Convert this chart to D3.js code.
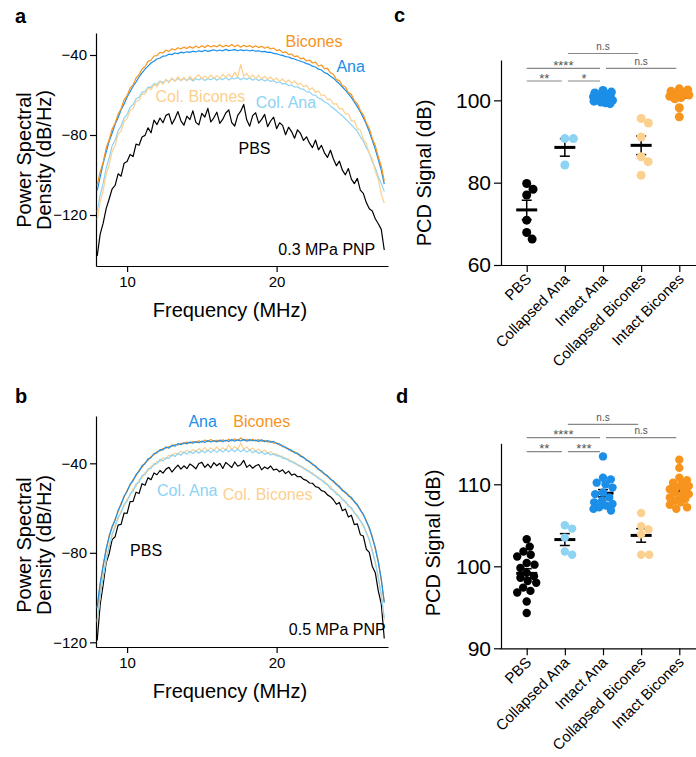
<!DOCTYPE html>
<meta charset="utf-8" />
<script src="https://d3js.org/d3.v7.min.js"></script>
<style>
  body { margin: 0; background: #fff; }
  svg text { font-family: "Liberation Sans", Arial, sans-serif; }
</style>
<svg width="696" height="757"></svg>
<script>
  // ---- spectra (panels a, b) ----
  var freqMHz = [
    8.0, 8.2, 8.4, 8.6, 8.8, 9.0, 9.2, 9.4, 9.6, 9.8,
    10.0, 10.2, 10.4, 10.6, 10.8, 11.0, 11.2, 11.4, 11.6, 11.8,
    12.0, 12.2, 12.4, 12.6, 12.8, 13.0, 13.2, 13.4, 13.6, 13.8,
    14.0, 14.2, 14.4, 14.6, 14.8, 15.0, 15.2, 15.4, 15.6, 15.8,
    16.0, 16.2, 16.4, 16.6, 16.8, 17.0, 17.2, 17.4, 17.6, 17.8,
    18.0, 18.2, 18.4, 18.6, 18.8, 19.0, 19.2, 19.4, 19.6, 19.8,
    20.0, 20.2, 20.4, 20.6, 20.8, 21.0, 21.2, 21.4, 21.6, 21.8,
    22.0, 22.2, 22.4, 22.6, 22.8, 23.0, 23.2, 23.4, 23.6, 23.8,
    24.0, 24.2, 24.4, 24.6, 24.8, 25.0, 25.2, 25.4, 25.6, 25.8,
    26.0, 26.2, 26.4, 26.6, 26.8, 27.0, 27.2
  ];

  // 0.3 MPa PNP
  var bicones03 = [
    -105.0, -98.4, -93.6, -86.5, -82.4, -77.0, -74.1, -69.5, -66.9, -62.4,
    -60.3, -56.6, -54.9, -51.5, -49.8, -47.0, -45.9, -43.2, -42.6, -40.5,
    -40.3, -38.7, -39.0, -37.6, -38.2, -36.9, -37.5, -36.4, -37.0, -36.0,
    -36.8, -35.8, -36.6, -35.5, -36.4, -35.4, -36.2, -35.1, -36.0, -35.3,
    -35.9, -34.9, -36.0, -35.2, -35.7, -34.8, -35.9, -35.0, -36.1, -35.1,
    -35.8, -35.3, -36.2, -35.4, -36.3, -35.6, -36.6, -35.9, -37.0, -36.5,
    -37.8, -37.3, -38.8, -38.4, -39.7, -39.5, -40.8, -40.4, -41.9, -41.6,
    -43.0, -42.5, -44.0, -43.6, -45.5, -45.0, -46.8, -46.7, -48.9, -49.6,
    -52.3, -52.8, -55.4, -56.0, -58.9, -59.7, -62.9, -64.3, -67.8, -69.9,
    -73.9, -76.8, -81.7, -85.3, -90.9, -95.6, -103.0
  ];
  var ana03 = [
    -107.8, -100.9, -94.2, -88.6, -83.1, -79.0, -74.6, -71.3, -67.4, -64.5,
    -61.0, -58.4, -55.6, -53.5, -51.0, -48.9, -47.1, -45.6, -44.0, -43.1,
    -42.0, -41.5, -40.6, -40.4, -39.6, -39.8, -39.0, -39.3, -38.6, -38.9,
    -38.4, -38.7, -38.1, -38.5, -37.9, -38.3, -37.6, -38.2, -37.8, -37.4,
    -38.0, -37.5, -37.9, -37.2, -37.8, -37.6, -37.3, -37.9, -37.4, -37.8,
    -37.5, -38.0, -37.6, -38.1, -37.9, -38.4, -38.2, -38.7, -38.6, -39.2,
    -39.4, -39.9, -40.2, -40.8, -41.0, -41.7, -42.0, -42.6, -43.1, -43.6,
    -44.3, -44.7, -45.6, -46.0, -47.1, -47.5, -48.8, -49.4, -50.6, -51.6,
    -53.1, -54.4, -56.0, -57.6, -59.4, -61.2, -63.6, -65.8, -68.5, -71.4,
    -74.6, -78.4, -82.6, -87.2, -92.3, -97.6, -104.5
  ];
  var colBicones03 = [
    -122.3, -113.4, -107.8, -99.6, -95.1, -88.2, -85.3, -79.7, -77.9, -73.1,
    -71.8, -67.6, -66.9, -63.0, -62.8, -59.4, -59.6, -56.5, -57.4, -54.6,
    -55.9, -53.2, -54.7, -52.1, -53.9, -51.4, -53.2, -50.9, -52.8, -51.2,
    -52.9, -50.6, -52.4, -51.0, -49.8, -52.1, -50.4, -51.9, -49.9, -51.6,
    -50.3, -51.8, -49.6, -51.2, -49.4, -51.3, -48.7, -50.9, -44.8, -50.6,
    -49.2, -51.4, -49.9, -51.8, -50.1, -52.0, -50.6, -52.3, -51.0, -52.7,
    -51.5, -53.3, -51.9, -53.6, -52.5, -54.2, -53.0, -54.8, -54.0, -55.9,
    -55.1, -57.4, -56.4, -58.7, -58.0, -60.4, -60.0, -62.3, -62.1, -64.6,
    -64.3, -66.9, -66.8, -69.5, -69.4, -72.9, -72.9, -76.8, -77.5, -82.3,
    -84.2, -89.3, -92.0, -98.1, -102.2, -109.6, -114.0
  ];
  var colAna03 = [
    -118.4, -110.0, -104.1, -96.6, -91.5, -85.4, -82.6, -77.8, -75.6, -71.5,
    -69.8, -66.2, -64.9, -61.9, -61.1, -58.6, -58.3, -56.1, -56.2, -54.3,
    -54.7, -53.0, -53.8, -52.6, -53.3, -51.9, -53.0, -51.7, -52.9, -51.8,
    -52.7, -51.6, -53.0, -51.9, -52.5, -51.5, -52.8, -51.8, -52.4, -51.4,
    -52.6, -51.7, -52.3, -51.3, -52.5, -51.6, -52.0, -51.2, -52.4, -51.5,
    -52.2, -51.4, -52.6, -51.7, -52.8, -52.0, -53.0, -52.3, -53.2, -52.8,
    -53.9, -53.4, -54.6, -54.2, -55.3, -55.0, -56.0, -55.9, -56.9, -57.1,
    -58.3, -58.4, -59.9, -60.1, -61.6, -62.0, -63.5, -64.1, -65.6, -66.6,
    -67.9, -69.2, -70.4, -72.0, -73.3, -74.9, -76.6, -78.1, -80.9, -83.0,
    -86.4, -89.0, -93.4, -96.5, -100.9, -104.2, -108.3
  ];
  var pbs03 = [
    -140.5, -129.6, -124.1, -116.8, -112.0, -106.9, -105.2, -99.4, -100.6, -94.1,
    -93.2, -89.7, -90.8, -84.5, -85.1, -81.0, -80.2, -76.4, -78.9, -72.6,
    -74.8, -71.5, -73.9, -70.2, -69.4, -74.6, -71.8, -68.3, -72.9, -75.1,
    -70.6, -72.3, -67.9, -73.7, -74.9, -69.2, -71.0, -66.7, -73.5, -71.4,
    -68.6, -74.2, -72.1, -69.0, -67.4, -73.8, -75.5, -70.2, -68.1, -64.7,
    -72.4, -75.6, -70.3, -68.9, -74.1, -72.2, -69.7, -75.8, -73.0, -71.1,
    -76.8, -73.9, -75.2, -79.9, -76.1, -78.3, -81.6, -77.4, -79.2, -82.7,
    -80.9, -84.1, -86.3, -82.5, -87.4, -85.2, -88.9, -91.2, -87.6, -92.0,
    -95.4, -93.1, -97.6, -99.9, -96.8, -102.1, -104.3, -101.7, -107.6, -109.2,
    -113.8, -116.9, -118.0, -121.9, -124.4, -127.2, -137.5
  ];

  // 0.5 MPa PNP
  var ana05 = [
    -104.2, -93.5, -85.9, -78.1, -72.9, -68.1, -65.4, -61.0, -58.4, -54.6,
    -52.6, -49.3, -47.8, -45.0, -43.6, -41.1, -40.2, -38.0, -37.5, -35.6,
    -35.3, -33.9, -34.0, -32.7, -33.2, -31.9, -32.3, -31.2, -31.7, -30.8,
    -31.3, -30.5, -31.0, -30.3, -30.8, -30.1, -30.7, -29.8, -30.5, -29.9,
    -30.4, -29.6, -30.3, -29.7, -30.2, -29.4, -30.1, -29.5, -30.0, -29.3,
    -30.1, -29.4, -29.9, -29.6, -30.2, -29.5, -30.3, -29.8, -30.6, -30.2,
    -31.2, -31.3, -32.5, -32.7, -33.9, -34.1, -35.3, -35.4, -36.9, -37.2,
    -38.7, -39.1, -40.6, -41.1, -42.8, -43.3, -44.9, -45.5, -47.2, -47.8,
    -49.6, -50.3, -52.2, -52.8, -54.6, -55.2, -57.3, -58.4, -61.0, -62.7,
    -66.0, -68.7, -73.3, -77.6, -84.3, -91.6, -102.3
  ];
  var bicones05 = [
    -104.8, -94.3, -85.2, -78.9, -72.3, -68.8, -64.9, -61.7, -57.8, -55.2,
    -52.0, -49.9, -47.2, -45.6, -43.1, -41.8, -39.7, -38.6, -37.0, -36.2,
    -34.8, -34.5, -33.4, -33.2, -32.5, -32.4, -31.6, -31.8, -31.0, -31.3,
    -30.5, -31.0, -30.2, -30.7, -29.9, -30.6, -29.6, -30.4, -29.4, -30.2,
    -29.7, -30.3, -29.5, -30.1, -29.2, -30.0, -29.1, -29.9, -28.7, -29.8,
    -29.3, -30.0, -29.2, -30.1, -29.3, -30.2, -29.8, -30.5, -30.1, -31.0,
    -30.8, -31.9, -32.0, -33.2, -33.4, -34.7, -34.8, -36.0, -36.3, -37.6,
    -38.2, -39.6, -40.1, -41.6, -42.3, -43.9, -44.5, -46.0, -46.7, -48.4,
    -49.0, -50.9, -51.6, -53.4, -54.0, -55.9, -56.8, -59.0, -60.5, -63.2,
    -65.5, -69.3, -72.6, -78.3, -83.7, -92.4, -101.8
  ];
  var colAna05 = [
    -110.3, -98.4, -91.2, -82.5, -77.6, -71.4, -68.7, -64.0, -62.1, -58.3,
    -57.0, -53.6, -52.5, -49.2, -48.5, -45.4, -45.1, -42.5, -42.3, -40.1,
    -40.3, -38.2, -38.9, -37.6, -37.8, -36.1, -37.0, -35.5, -36.4, -34.9,
    -35.9, -34.7, -35.6, -34.4, -35.5, -34.3, -35.3, -34.1, -35.2, -34.0,
    -35.1, -33.9, -35.0, -33.8, -34.9, -33.7, -34.8, -33.6, -34.9, -33.8,
    -35.0, -34.0, -35.3, -34.4, -35.6, -34.8, -36.0, -35.2, -36.3, -35.7,
    -36.7, -36.6, -37.8, -37.7, -38.9, -39.1, -40.1, -40.4, -41.6, -41.8,
    -43.3, -43.5, -45.0, -45.4, -46.9, -47.3, -48.9, -49.3, -51.4, -51.9,
    -53.9, -54.3, -56.4, -56.9, -59.3, -59.8, -62.3, -63.3, -65.8, -67.5,
    -71.2, -74.1, -79.4, -84.1, -91.3, -98.7, -109.2
  ];
  var colBicones05 = [
    -111.0, -99.6, -90.1, -83.6, -76.6, -72.8, -67.5, -64.9, -61.2, -59.0,
    -56.1, -54.5, -51.3, -50.4, -47.3, -46.5, -44.0, -43.4, -41.2, -40.9,
    -39.1, -39.2, -37.5, -37.9, -36.3, -36.8, -35.4, -35.9, -34.6, -35.3,
    -34.2, -35.0, -33.8, -34.9, -33.4, -34.6, -32.9, -34.5, -33.1, -34.3,
    -32.6, -34.2, -33.0, -34.0, -31.8, -33.9, -32.5, -33.8, -30.9, -33.7,
    -32.7, -34.1, -33.2, -34.5, -33.6, -35.0, -34.1, -35.5, -34.8, -36.1,
    -35.7, -37.0, -36.8, -38.2, -38.0, -39.5, -39.4, -41.0, -40.9, -42.6,
    -42.5, -44.1, -44.2, -45.9, -46.0, -47.8, -48.0, -49.9, -50.3, -52.4,
    -52.9, -54.8, -55.6, -57.5, -58.5, -60.5, -61.8, -64.1, -65.5, -68.3,
    -70.4, -74.6, -78.8, -84.7, -90.6, -99.3, -110.0
  ];
  var pbs05 = [
    -119.2, -103.1, -94.2, -84.3, -80.4, -74.1, -72.8, -67.6, -67.3, -62.2,
    -62.4, -57.1, -57.0, -52.9, -53.5, -49.1, -49.8, -46.4, -47.3, -44.3,
    -45.1, -43.2, -44.4, -42.6, -41.8, -43.9, -42.3, -40.8, -42.6, -41.1,
    -42.4, -40.3, -41.2, -42.5, -40.1, -39.6, -41.8, -40.4, -42.0, -39.7,
    -41.1, -40.0, -42.3, -39.6, -40.7, -41.9, -39.4, -41.3, -40.6, -38.7,
    -41.8, -40.7, -42.2, -41.1, -40.5, -42.9, -41.6, -42.4, -41.2, -43.0,
    -42.6, -43.8, -42.9, -44.6, -43.5, -45.3, -44.8, -46.0, -45.9, -47.2,
    -47.6, -48.8, -48.9, -50.4, -50.8, -52.2, -52.6, -54.1, -54.9, -56.3,
    -58.3, -57.5, -61.2, -60.4, -64.0, -63.2, -67.4, -67.1, -71.9, -72.5,
    -78.4, -79.8, -86.1, -88.9, -97.0, -102.8, -118.3
  ];

  var freqTicks = [10, 20];
  var psdTicks = [-40, -80, -120];

  // ---- PCD signal (panels c, d) ----
  var groups = ["PBS", "Collapsed Ana", "Intact Ana", "Collapsed Bicones", "Intact Bicones"];

  var pbsC = [79.8, 78.4, 77.0, 70.9, 67.9, 66.3];
  var colAnaC = [90.7, 90.7, 84.3];
  var intactAnaC = [102.4, 102.0, 101.8, 101.5, 101.3, 101.1, 100.9, 100.7, 100.5, 100.3, 100.0, 99.8, 99.6, 99.4, 99.2];
  var colBiconesC = [95.6, 94.5, 91.1, 86.3, 85.1, 81.8];
  var intactBiconesC = [102.8, 102.5, 102.2, 101.9, 101.6, 101.3, 101.0, 100.7, 100.4, 98.2, 96.0];

  var pbsD = [103.3, 102.4, 101.8, 101.4, 101.2, 100.4, 100.2, 99.8, 99.2, 98.8, 98.6, 98.2, 98.0, 97.4, 97.0, 96.8, 95.7, 94.3];
  var colAnaD = [105.0, 104.6, 103.5, 101.8, 101.4];
  var intactAnaD = [113.4, 110.8, 110.6, 110.2, 110.0, 109.6, 109.0, 108.8, 108.4, 108.0, 107.8, 107.6, 107.4, 107.2, 107.0, 106.8];
  var colBiconesD = [106.5, 104.9, 104.5, 103.9, 101.4, 101.4];
  var intactBiconesD = [113.0, 112.0, 110.8, 110.5, 110.2, 110.0, 109.8, 109.6, 109.4, 109.2, 109.0, 108.8, 108.6, 108.4, 108.2, 108.0, 107.8, 107.5, 107.2, 107.0];

  var pcdTicksC = [60, 80, 100];
  var pcdTicksD = [90, 100, 110];

  // significance brackets: group pairs, bracket level, labels
  var sigPairs = [[0, 1], [1, 2], [0, 2], [2, 4], [1, 3]];
  var sigLevels = [0, 0, 1, 1, 2];
  var sigLabelsC = ["**", "*", "****", "n.s", "n.s"];
  var sigLabelsD = ["**", "***", "****", "n.s", "n.s"];

  var C = {
    bicones: "#f7941d",
    ana: "#1b8ee8",
    colBicones: "#fcd08e",
    colAna: "#8dd3f3",
    pbs: "#000"
  };
  var groupColors = [C.pbs, C.colAna, C.ana, C.colBicones, C.bicones];

  var svg = d3.select("svg");
  var FONT = '"Liberation Sans", Arial, sans-serif';

  function styleAxis(g, size) {
    g.attr("font-family", FONT).attr("font-size", size);
    g.selectAll("path, line").attr("stroke", "#000").attr("stroke-width", 1.2);
    g.selectAll("text").attr("fill", "#000");
  }

  function spectrumPanel(cfg) {
    var x = d3.scaleLinear().domain([7.92, 27.45]).range([96, 388]);
    var y = d3.scaleLinear().domain(cfg.yDomain).range([cfg.yBottom, cfg.yTop]);

    var gx = svg.append("g")
      .attr("transform", "translate(0," + cfg.yBottom + ")")
      .call(d3.axisBottom(x).tickValues(freqTicks).tickSize(6).tickSizeOuter(0).tickPadding(4));
    styleAxis(gx, 15);
    var gy = svg.append("g")
      .attr("transform", "translate(96,0)")
      .call(d3.axisLeft(y).tickValues(psdTicks).tickSize(6).tickSizeOuter(0).tickPadding(3));
    styleAxis(gy, 15);

    var line = d3.line()
      .x(function (d, i) { return x(freqMHz[i]); })
      .y(function (d) { return y(d); });

    cfg.series.forEach(function (s) {
      svg.append("path")
        .datum(s.values)
        .attr("d", line)
        .attr("fill", "none")
        .attr("stroke", s.color)
        .attr("stroke-width", 1.2)
        .attr("stroke-linejoin", "round");
    });

    cfg.labels.forEach(function (l) {
      svg.append("text")
        .attr("x", x(l.f))
        .attr("y", y(l.db))
        .attr("text-anchor", l.anchor || "start")
        .attr("font-size", 16)
        .attr("fill", l.color)
        .text(l.text);
    });

    // axis titles
    var yt = svg.append("text")
      .attr("transform", "translate(0," + cfg.titleY + ") rotate(-90)")
      .attr("text-anchor", "middle")
      .attr("font-size", 20);
    yt.append("tspan").attr("x", 0).attr("y", 31).text("Power Spectral");
    yt.append("tspan").attr("x", 0).attr("y", 51).text("Density (dB/Hz)");

    svg.append("text")
      .attr("x", 230)
      .attr("y", cfg.yBottom + 51)
      .attr("text-anchor", "middle")
      .attr("font-size", 20)
      .text("Frequency (MHz)");
  }

  spectrumPanel({
    yDomain: [-145.5, -29],
    yBottom: 266,
    yTop: 33,
    titleY: 160,
    series: [
      { values: pbs03, color: C.pbs },
      { values: colAna03, color: C.colAna },
      { values: colBicones03, color: C.colBicones },
      { values: ana03, color: C.ana },
      { values: bicones03, color: C.bicones }
    ],
    labels: [
      { text: "Bicones", f: 20.6, db: -36.0, color: C.bicones },
      { text: "Ana", f: 24.0, db: -48.5, color: C.ana },
      { text: "Col. Bicones", f: 11.9, db: -63.5, color: C.colBicones },
      { text: "Col. Ana", f: 18.6, db: -66.5, color: C.colAna },
      { text: "PBS", f: 17.45, db: -89.5, color: "#000" },
      { text: "0.3 MPa PNP", f: 26.6, db: -140, color: "#000", anchor: "end" }
    ]
  });

  spectrumPanel({
    yDomain: [-122.1, -18.85],
    yBottom: 647,
    yTop: 416,
    titleY: 545,
    series: [
      { values: pbs05, color: C.pbs },
      { values: colBicones05, color: C.colBicones },
      { values: colAna05, color: C.colAna },
      { values: bicones05, color: C.bicones },
      { values: ana05, color: C.ana }
    ],
    labels: [
      { text: "Ana", f: 14.1, db: -23.8, color: C.ana },
      { text: "Bicones", f: 17.1, db: -23.8, color: C.bicones },
      { text: "Col. Ana", f: 12.0, db: -54.6, color: C.colAna },
      { text: "Col. Bicones", f: 16.4, db: -56.4, color: C.colBicones },
      { text: "PBS", f: 10.2, db: -81.5, color: "#000" },
      { text: "0.5 MPa PNP", f: 27.3, db: -116.8, color: "#000", anchor: "end" }
    ]
  });

  // beeswarm with a width limit; dense groups are allowed to overlap
  function swarm(values, y, r, maxW) {
    var pts = values.map(function (v) { return { v: v, y: y(v), x: 0 }; })
      .sort(function (a, b) { return a.y - b.y; });
    var d2 = (2 * r * 0.95) * (2 * r * 0.95);
    var placed = [];
    function minDist(c, p) {
      var m = Infinity;
      placed.forEach(function (q) {
        var dd = (q.x - c) * (q.x - c) + (q.y - p.y) * (q.y - p.y);
        if (dd < m) m = dd;
      });
      return m;
    }
    pts.forEach(function (p) {
      var cands = [0];
      placed.forEach(function (q) {
        var dy = q.y - p.y;
        if (dy * dy < d2) {
          var dx = Math.sqrt(d2 - dy * dy);
          cands.push(q.x + dx, q.x - dx);
        }
      });
      cands = cands.filter(function (c) { return Math.abs(c) <= maxW; });
      cands.sort(function (a, b) { return Math.abs(a) - Math.abs(b) || b - a; });
      var found = false;
      for (var k = 0; k < cands.length; k++) {
        if (minDist(cands[k], p) >= d2 - 0.01) { p.x = cands[k]; found = true; break; }
      }
      if (!found) {
        var best = 0, bestD = -1;
        for (var c = -maxW; c <= maxW; c += 0.5) {
          var dd = minDist(c, p);
          if (dd > bestD + 0.01) { bestD = dd; best = c; }
        }
        p.x = best;
      }
      placed.push(p);
    });
    return pts;
  }

  function dotPanel(cfg) {
    var x = d3.scalePoint().domain(groups).range([500, 706]).padding(0.7);
    var y = d3.scaleLinear().domain(cfg.yDomain).range([cfg.yBottom, cfg.yTop]);

    var gx = svg.append("g")
      .attr("transform", "translate(0," + cfg.yBottom + ")")
      .call(d3.axisBottom(x).tickSize(7).tickSizeOuter(0));
    styleAxis(gx, 15);
    gx.selectAll(".tick text")
      .attr("x", 0).attr("y", 0).attr("dy", 0)
      .attr("text-anchor", "end")
      .attr("transform", "translate(5,15) rotate(-45)");

    var gy = svg.append("g")
      .attr("transform", "translate(501,0)")
      .call(d3.axisLeft(y).tickValues(cfg.ticks).tickSize(7).tickSizeOuter(0).tickPadding(3));
    styleAxis(gy, 21);

    svg.append("text")
      .attr("transform", "translate(" + cfg.titleX + "," + cfg.titleY + ") rotate(-90)")
      .attr("text-anchor", "middle")
      .attr("font-size", 20)
      .text("PCD Signal (dB)");

    cfg.data.forEach(function (vals, gi) {
      var cx = x(groups[gi]);
      var m = d3.mean(vals);
      var sem = d3.deviation(vals) / Math.sqrt(vals.length);
      var g = svg.append("g").attr("stroke", "#000");
      g.append("line").attr("x1", cx - 10.5).attr("x2", cx + 10.5)
        .attr("y1", y(m)).attr("y2", y(m)).attr("stroke-width", 3);
      g.append("line").attr("x1", cx).attr("x2", cx)
        .attr("y1", y(m - sem)).attr("y2", y(m + sem)).attr("stroke-width", 1.5);
      [m - sem, m + sem].forEach(function (e) {
        g.append("line").attr("x1", cx - 5).attr("x2", cx + 5)
          .attr("y1", y(e)).attr("y2", y(e)).attr("stroke-width", 1.5);
      });

      svg.append("g").selectAll("circle")
        .data(swarm(vals, y, cfg.r, 9.5))
        .enter()
        .append("circle")
        .attr("cx", function (d) { return cx + d.x; })
        .attr("cy", function (d) { return d.y; })
        .attr("r", cfg.r)
        .attr("fill", groupColors[gi]);
    });

    sigPairs.forEach(function (p, k) {
      var ly = cfg.levelY[sigLevels[k]];
      var x1 = x(groups[p[0]]) + (p[0] > 0 ? 3 : 0);
      var x2 = x(groups[p[1]]) - 3;
      svg.append("line")
        .attr("x1", x1).attr("x2", x2).attr("y1", ly).attr("y2", ly)
        .attr("stroke", "#888").attr("stroke-width", 1.2);
      var lab = cfg.labels[k];
      var star = lab.indexOf("*") >= 0;
      svg.append("text")
        .attr("x", (x1 + x2) / 2)
        .attr("y", star ? ly + 1.5 : ly - 3.5)
        .attr("text-anchor", "middle")
        .attr("font-size", star ? 13 : 10)
        .attr("fill", "#555")
        .text(lab);
    });
  }

  dotPanel({
    yDomain: [60, 109.8],
    yBottom: 265,
    yTop: 60,
    ticks: pcdTicksC,
    r: 4.5,
    titleX: 431,
    titleY: 173,
    data: [pbsC, colAnaC, intactAnaC, colBiconesC, intactBiconesC],
    labels: sigLabelsC,
    levelY: [81, 68.3, 53.5]
  });

  dotPanel({
    yDomain: [90, 115],
    yBottom: 648.3,
    yTop: 443.3,
    ticks: pcdTicksD,
    r: 4.2,
    titleX: 440,
    titleY: 543,
    data: [pbsD, colAnaD, intactAnaD, colBiconesD, intactBiconesD],
    labels: sigLabelsD,
    levelY: [451.7, 437.7, 424.3]
  });

  // panel letters
  [["a", 15, 23], ["b", 15, 403], ["c", 394, 22], ["d", 396, 403]].forEach(function (l) {
    svg.append("text")
      .attr("x", l[1]).attr("y", l[2])
      .attr("font-size", 20).attr("font-weight", "bold")
      .text(l[0]);
  });
</script>
